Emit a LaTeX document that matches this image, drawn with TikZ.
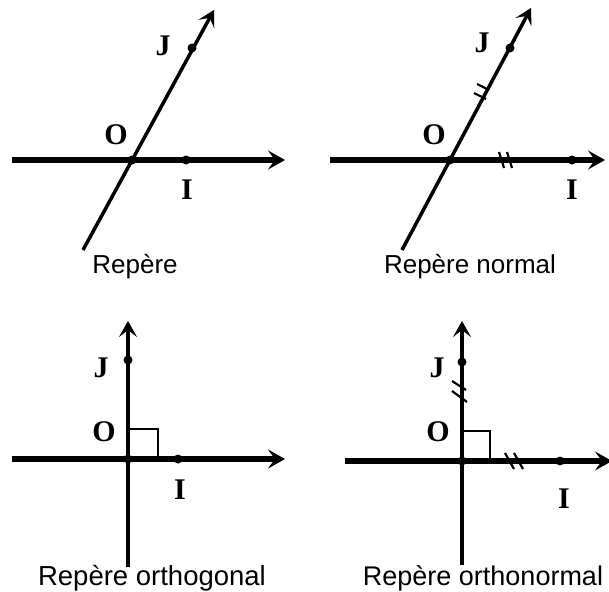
\documentclass[tikz,border=0pt]{standalone}
\usepackage{fontspec}
\setmainfont{Liberation Serif}
\newfontfamily\capfont{Liberation Sans}
\usetikzlibrary{arrows.meta}
\tikzset{
  axisthick/.style={line width=5.5pt,-{Stealth[length=17pt,width=19pt,inset=7pt]}},
  axisthin/.style={line width=3.5pt,-{Stealth[length=16pt,width=18pt,inset=7pt]}},
  lbl/.style={font=\fontsize{30}{30}\selectfont\bfseries, inner sep=0pt},
  captext/.style={font=\capfont\fontsize{26}{26}\selectfont, inner sep=0pt},
  captextb/.style={font=\capfont\fontsize{27.5}{27.5}\selectfont, inner sep=0pt},
  dot/.style={circle, fill=black, inner sep=0pt, minimum size=9pt},
  hash/.style={line width=2.2pt},
  sq/.style={line width=2pt}
}
\begin{document}
\begin{tikzpicture}[x=1pt,y=-1pt]
\useasboundingbox (0,0) rectangle (609,591);
% ---------- Panel 1: Repere
\coordinate (a1l) at (12,160);
\coordinate (a1r) at (285,160);
\coordinate (b1l) at (83,250);
\coordinate (b1r) at (214,10);
\draw[axisthick] (a1l) -- (a1r);
\draw[axisthin] (b1l) -- (b1r);
\node[dot] (o1) at (132,160) {};
\node[dot] (i1) at (186,160) {};
\node[dot] (j1) at (192,48) {};
\node[lbl] (lo1) at (116,135) {O};
\node[lbl] (li1) at (187,190) {I};
\node[lbl] (lj1) at (163,46) {J};
\node[captext] (c1) at (135,267) {Repère};
% ---------- Panel 2: Repere normal
\coordinate (a2l) at (330,160);
\coordinate (a2r) at (605,160);
\coordinate (b2l) at (402,250);
\coordinate (b2r) at (531,8);
\draw[axisthick] (a2l) -- (a2r);
\draw[axisthin] (b2l) -- (b2r);
\node[dot] (o2) at (450,160) {};
\node[dot] (i2) at (572,160) {};
\node[dot] (j2) at (510,48) {};
\node[lbl] (lo2) at (434,135) {O};
\node[lbl] (li2) at (572,190) {I};
\node[lbl] (lj2) at (482,43) {J};
\node[captext] (c2) at (470,267) {Repère normal};
\coordinate (m2a) at (483,96);
\coordinate (m2b) at (506,160);
\draw[hash] (m2a) ++(-6,-12) -- ++(12,6);
\draw[hash] (m2a) ++(-9,-3) -- ++(12,6);
\draw[hash] (m2b) ++(-7,-8) -- ++(5,16);
\draw[hash] (m2b) ++(1,-8) -- ++(5,16);
% ---------- Panel 3: Repere orthogonal
\coordinate (a3l) at (12,459);
\coordinate (a3r) at (285,459);
\coordinate (b3l) at (128,567);
\coordinate (b3r) at (128,321);
\draw[axisthick] (a3l) -- (a3r);
\draw[axisthin] (b3l) -- (b3r);
\node[dot] (o3) at (128,459) {};
\node[dot] (i3) at (178,459) {};
\node[dot] (j3) at (128,360) {};
\draw[sq] (128,429) rectangle (158,459);
\node[lbl] (lo3) at (104,432) {O};
\node[lbl] (li3) at (180,490) {I};
\node[lbl] (lj3) at (101,368) {J};
\node[captextb] (c3) at (152,578) {Repère orthogonal};
% ---------- Panel 4: Repere orthonormal
\coordinate (a4l) at (345,461);
\coordinate (a4r) at (612,461);
\coordinate (b4l) at (462,565);
\coordinate (b4r) at (462,321);
\draw[axisthick] (a4l) -- (a4r);
\draw[axisthin] (b4l) -- (b4r);
\node[dot] (o4) at (462,461) {};
\node[dot] (i4) at (560,461) {};
\node[dot] (j4) at (462,362) {};
\draw[sq] (462,431) rectangle (490,461);
\node[lbl] (lo4) at (438,432) {O};
\node[lbl] (li4) at (564,499) {I};
\node[lbl] (lj4) at (437,368) {J};
\node[captext, font=\capfont\fontsize{27}{27}\selectfont] (c4) at (483,578) {Repère orthonormal};
\coordinate (m4a) at (460,391);
\coordinate (m4b) at (517,461);
\draw[hash] (m4a) ++(-8,-10) -- ++(14,9);
\draw[hash] (m4a) ++(-8,0) -- ++(15,11);
\draw[hash] (m4b) ++(-12,-8) -- ++(9,16);
\draw[hash] (m4b) ++(-3,-8) -- ++(9,16);
\end{tikzpicture}
\end{document}
